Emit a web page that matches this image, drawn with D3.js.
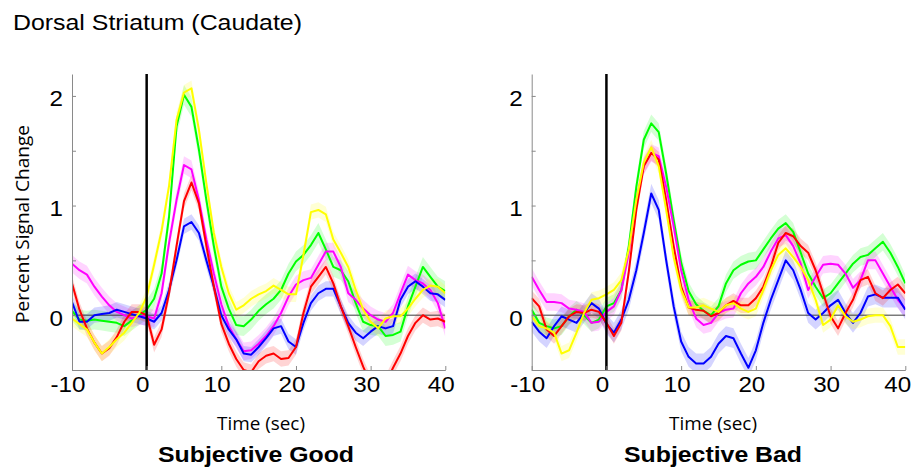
<!DOCTYPE html>
<html>
<head>
<meta charset="utf-8">
<script src="https://cdn.jsdelivr.net/npm/d3@7"></script>
<style>
  body { margin: 0; background: #fff; }
  svg { display: block; }
</style>
</head>
<body>
<svg id="chart" width="917" height="472"></svg>
<script>
// Sample times (s) relative to outcome onset
const timeSec = [-10,-9,-8,-7,-6,-5,-4,-3,-2,-1,0,1,2,3,4,5,6,7,8,9,10,11,12,13,14,15,16,17,18,19,20,
                 21,22,23,24,25,26,27,28,29,30,31,32,33,34,35,36,37,38,39,40];

const xTicks = [-10, 0, 10, 20, 30, 40];
const yTicks = [-0.5, 0, 0.5, 1, 1.5, 2];
const yTickLabels = ["", "0", "", "1", "", "2"];

const seriesNames = ["green", "magenta", "blue", "red", "yellow"];
const seriesColors = ["#00ff00", "#ff00ff", "#0000ff", "#ff0000", "#ffff00"];

// Subjective Good: mean percent signal change
const goodGreen = [0.04,-0.04,-0.05,-0.04,-0.05,-0.06,-0.07,-0.10,-0.05,0.00,0.05,0.15,0.38,0.90,1.72,2.01,1.90,1.51,1.05,0.63,0.26,
                   0.06,-0.09,-0.10,-0.04,0.04,0.10,0.15,0.23,0.38,0.49,0.55,0.64,0.75,0.60,0.44,0.41,0.31,0.11,-0.06,-0.09,
                   -0.10,-0.19,-0.18,-0.15,0.08,0.26,0.44,0.35,0.26,0.22];
const goodMagenta = [0.47,0.41,0.37,0.26,0.17,0.09,0.03,0.00,-0.03,-0.01,-0.01,-0.03,0.20,0.66,1.05,1.37,1.33,1.05,0.69,0.38,0.10,
                     -0.10,-0.22,-0.33,-0.32,-0.26,-0.19,-0.10,0.02,0.17,0.28,0.32,0.34,0.46,0.58,0.58,0.44,0.20,0.14,0.06,0.00,
                     -0.04,-0.06,0.02,0.20,0.37,0.32,0.29,0.23,0.11,-0.12];
const goodBlue = [0.12,-0.06,-0.06,0.00,0.01,0.02,0.05,0.03,0.01,-0.01,-0.03,-0.06,0.02,0.23,0.50,0.81,0.85,0.75,0.50,0.26,0.00,
                  -0.13,-0.22,-0.35,-0.36,-0.29,-0.21,-0.12,-0.10,-0.24,-0.29,-0.07,0.11,0.20,0.24,0.24,0.08,-0.07,-0.16,-0.21,-0.15,
                  -0.10,-0.12,-0.10,0.14,0.26,0.31,0.26,0.20,0.19,0.14];
const goodRed = [0.29,0.05,-0.12,-0.25,-0.35,-0.30,-0.20,-0.06,0.03,0.03,0.00,-0.27,-0.13,0.20,0.63,1.04,1.21,1.02,0.63,0.26,-0.08,
                 -0.26,-0.40,-0.50,-0.52,-0.42,-0.37,-0.35,-0.40,-0.39,-0.29,0.02,0.26,0.35,0.44,0.29,0.08,-0.10,-0.29,-0.47,-0.62,
                 -0.70,-0.62,-0.48,-0.35,-0.19,-0.07,0.00,-0.04,-0.03,-0.06];
const goodYellow = [-0.03,-0.08,-0.13,-0.25,-0.35,-0.29,-0.22,-0.16,-0.07,0.02,0.17,0.46,0.77,1.18,1.78,2.03,2.07,1.69,1.20,0.75,0.44,
                    0.20,0.05,0.09,0.15,0.19,0.22,0.27,0.23,0.19,0.19,0.55,0.94,0.96,0.92,0.69,0.57,0.44,0.23,0.05,-0.06,
                    -0.12,-0.03,-0.01,-0.01,0.06,0.15,0.23,0.27,0.26,0.20];

// Subjective Bad: mean percent signal change
const badGreen = [0.05,-0.07,-0.10,-0.12,-0.10,-0.01,0.05,0.00,-0.07,-0.04,0.08,0.11,0.23,0.63,1.17,1.60,1.75,1.67,1.29,0.87,0.48,
                  0.22,0.10,0.04,0.00,0.08,0.29,0.41,0.46,0.49,0.50,0.60,0.70,0.79,0.84,0.76,0.57,0.38,0.26,0.155,0.20,
                  0.29,0.38,0.47,0.53,0.55,0.61,0.67,0.57,0.44,0.29];
const badMagenta = [0.35,0.23,0.12,0.12,0.11,0.06,0.05,0.03,-0.07,-0.06,0.03,0.08,0.23,0.57,1.05,1.36,1.48,1.45,1.17,0.81,0.41,
                    0.14,-0.03,-0.09,-0.07,0.02,0.05,0.06,0.20,0.29,0.35,0.44,0.58,0.70,0.73,0.63,0.47,0.23,0.35,0.46,0.47,
                    0.46,0.38,0.25,0.32,0.50,0.50,0.38,0.26,0.14,0.06];
const badBlue = [-0.06,-0.15,-0.21,-0.10,-0.01,-0.04,-0.07,0.02,0.11,0.06,-0.08,-0.16,-0.04,0.14,0.41,0.75,1.11,0.96,0.50,0.08,-0.24,
                 -0.38,-0.44,-0.44,-0.38,-0.26,-0.19,-0.21,-0.35,-0.48,-0.32,-0.07,0.14,0.32,0.50,0.41,0.23,0.02,-0.04,0.02,0.09,
                 0.14,0.02,-0.07,0.02,0.17,0.19,0.16,0.16,0.16,0.05];
const badRed = [0.155,0.08,-0.13,-0.19,-0.10,-0.01,0.03,0.02,0.05,0.03,-0.07,-0.19,-0.07,0.40,0.96,1.36,1.48,1.42,1.05,0.63,0.26,
                0.07,0.05,0.04,-0.01,0.02,0.09,0.13,0.09,0.09,0.155,0.26,0.44,0.66,0.75,0.72,0.63,0.57,0.41,0.20,-0.01,
                -0.12,0.02,0.14,0.32,0.35,0.20,0.155,0.23,0.28,0.20];
const badYellow = [-0.01,-0.10,-0.12,-0.16,-0.35,-0.32,-0.16,0.02,0.14,0.155,0.19,0.23,0.32,0.60,1.05,1.39,1.53,1.36,0.96,0.53,0.23,
                   0.07,0.07,0.09,0.06,0.03,0.09,0.11,0.06,0.03,0.06,0.23,0.41,0.55,0.61,0.53,0.44,0.32,0.14,-0.09,-0.04,
                   0.09,-0.01,-0.06,-0.04,-0.01,0.00,0.00,-0.10,-0.29,-0.29];

// Standard error of the mean, one value per series (same order as seriesNames)
const goodSem = [0.09, 0.08, 0.07, 0.07, 0.07];
const badSem  = [0.08, 0.08, 0.09, 0.07, 0.07];

const panelTitles = ["Subjective Good", "Subjective Bad"];
const xAxisLabel = "Time (sec)";
const yAxisLabel = "Percent Signal Change";
const chartTitle = "Dorsal Striatum (Caudate)";

const panels = [
  { title: panelTitles[0], values: [goodGreen, goodMagenta, goodBlue, goodRed, goodYellow], sem: goodSem,
    left: 72, right: 445.3, labelCx: 261, titleCx: 256, titleW: 196 },
  { title: panelTitles[1], values: [badGreen, badMagenta, badBlue, badRed, badYellow], sem: badSem,
    left: 531.7, right: 905.3, labelCx: 713, titleCx: 713, titleW: 178 }
];

const plotTop = 74, plotBottom = 370;
const sansFont = "'Liberation Sans', Arial, Helvetica, sans-serif";
const humanistFont = "'Open Sans', 'Noto Sans', sans-serif";

const svg = d3.select("#chart");

// Widen text horizontally by factor k
function stretch(sel, k) {
  sel.each(function () {
    const w = this.getComputedTextLength();
    this.setAttribute("textLength", w * k);
    this.setAttribute("lengthAdjust", "spacingAndGlyphs");
  });
}

svg.append("text")
  .attr("x", 13).attr("y", 30)
  .attr("font-family", sansFont).attr("font-size", 22)
  .attr("fill", "#000")
  .attr("textLength", 289).attr("lengthAdjust", "spacingAndGlyphs")
  .text(chartTitle);

svg.append("text")
  .attr("transform", `translate(29, 224) rotate(-90)`)
  .attr("text-anchor", "middle")
  .attr("font-family", humanistFont).attr("font-size", 18)
  .attr("fill", "#000")
  .attr("textLength", 198).attr("lengthAdjust", "spacingAndGlyphs")
  .text(yAxisLabel);

const y = d3.scaleLinear().domain([-0.5, 2.2]).range([plotBottom, plotTop]);

panels.forEach((p, pi) => {
  const x = d3.scaleLinear().domain([-10, 40]).range([p.left, p.right]);
  const g = svg.append("g");

  const clipId = "clip" + pi;
  svg.append("clipPath").attr("id", clipId)
    .append("rect")
    .attr("x", p.left).attr("y", plotTop)
    .attr("width", p.right - p.left).attr("height", plotBottom - plotTop);

  const plot = g.append("g").attr("clip-path", `url(#${clipId})`);

  // error bands
  p.values.forEach((vals, si) => {
    const s = p.sem[si];
    const area = d3.area()
      .x((d, i) => x(timeSec[i]))
      .y0(d => y(d - s))
      .y1(d => y(d + s));
    plot.append("path")
      .datum(vals)
      .attr("d", area)
      .attr("fill", seriesColors[si])
      .attr("fill-opacity", 0.17)
      .attr("stroke", "none");
  });

  // zero reference line
  plot.append("line")
    .attr("x1", x(-10)).attr("x2", x(40))
    .attr("y1", y(0)).attr("y2", y(0))
    .attr("stroke", "#3a3a3a").attr("stroke-width", 1);

  // mean time courses
  p.values.forEach((vals, si) => {
    const line = d3.line()
      .x((d, i) => x(timeSec[i]))
      .y(d => y(d));
    plot.append("path")
      .datum(vals)
      .attr("d", line)
      .attr("fill", "none")
      .attr("stroke", seriesColors[si])
      .attr("stroke-width", 2)
      .attr("stroke-linejoin", "round");
  });

  // onset marker
  g.append("line")
    .attr("x1", x(0)).attr("x2", x(0))
    .attr("y1", plotTop).attr("y2", plotBottom)
    .attr("stroke", "#000").attr("stroke-width", 2.5);

  // axes
  const xAxis = d3.axisBottom(x).tickValues(xTicks).tickFormat(d3.format("d"))
    .tickSizeInner(-4).tickSizeOuter(0).tickPadding(6.4);
  const gx = g.append("g").attr("transform", `translate(0,${plotBottom})`).call(xAxis);
  gx.select(".domain").attr("stroke", "#8a8a8a");
  gx.selectAll(".tick line").attr("stroke", "#8a8a8a");
  gx.selectAll(".tick text")
    .attr("font-family", sansFont).attr("font-size", 22).attr("fill", "#000")
    .attr("x", (d, i) => (i === xTicks.length - 1 && pi === 1) ? -8 : -4.5)
    .text(d => d < 0 ? "-" + Math.abs(d) : String(d))
    .call(stretch, 1.1);

  const yAxis = d3.axisLeft(y).tickValues(yTicks)
    .tickFormat((d, i) => yTickLabels[i])
    .tickSizeInner(-4).tickSizeOuter(0).tickPadding(9);
  const gy = g.append("g").attr("transform", `translate(${p.left},0)`).call(yAxis);
  gy.select(".domain").attr("stroke", "#8a8a8a");
  gy.selectAll(".tick line").attr("stroke", "#8a8a8a");
  gy.selectAll(".tick text")
    .attr("font-family", sansFont).attr("font-size", 22).attr("fill", "#000")
    .attr("dy", "0.45em")
    .call(stretch, 1.1);

  // labels below the panel
  g.append("text")
    .attr("x", p.labelCx).attr("y", 430)
    .attr("text-anchor", "middle")
    .attr("font-family", humanistFont).attr("font-size", 19)
    .attr("fill", "#000")
    .attr("textLength", 88).attr("lengthAdjust", "spacingAndGlyphs")
    .text(xAxisLabel);

  g.append("text")
    .attr("x", p.titleCx).attr("y", 461.5)
    .attr("text-anchor", "middle")
    .attr("font-family", sansFont).attr("font-size", 22.5).attr("font-weight", "bold")
    .attr("fill", "#000")
    .attr("textLength", p.titleW).attr("lengthAdjust", "spacingAndGlyphs")
    .text(p.title);
});
</script>
</body>
</html>
